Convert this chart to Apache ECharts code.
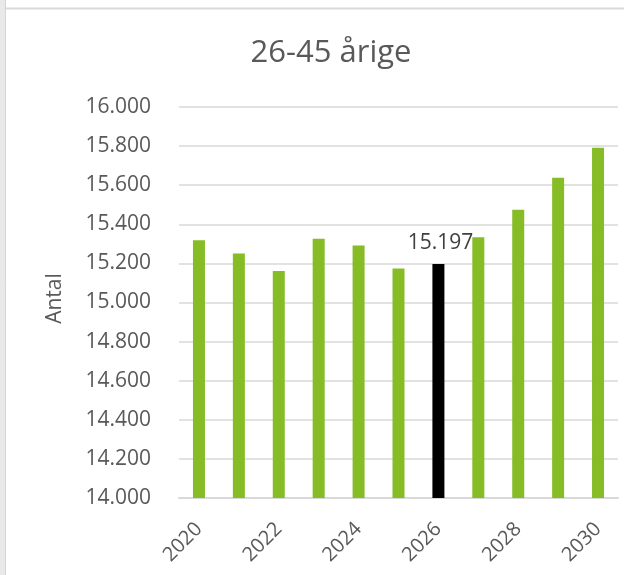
<!DOCTYPE html>
<html>
<head>
<meta charset="utf-8">
<script src="https://cdn.jsdelivr.net/npm/echarts@6/dist/echarts.min.js"></script>
<style>
html,body{margin:0;padding:0;background:#fff;}
#chart{width:624px;height:575px;}
</style>
</head>
<body>
<div id="chart"></div>
<script>
const categories = ['2020','2021','2022','2023','2024','2025','2026','2027','2028','2029','2030'];
const values = [15318, 15251, 15161, 15326, 15292, 15174, 15197, 15334, 15475, 15638, 15792];
const highlightYear = '2026';
const titleText = '26-45 årige';
const yAxisName = 'Antal';

const fontFamily = '"Open Sans", "Noto Sans", sans-serif';
const chart = echarts.init(document.getElementById('chart'), null, {renderer: 'canvas'});

const seriesData = values.map((v, i) => {
  if (categories[i] === highlightYear) {
    return {
      value: v,
      itemStyle: {color: '#000000'},
      label: {
        show: true, position: 'top', distance: 10, offset: [2, 0],
        formatter: p => (p.value / 1000).toFixed(3),
        color: '#404040', fontSize: 21, fontFamily: fontFamily
      }
    };
  }
  return v;
});

chart.setOption({
  animation: false,
  backgroundColor: '#ffffff',
  title: {
    text: titleText,
    left: 326, top: 33, textAlign: 'center',
    textStyle: {color: '#595959', fontSize: 31, fontWeight: 'normal', fontFamily: fontFamily}
  },
  grid: {left: 179, right: 6, top: 107, bottom: 77, containLabel: false},
  xAxis: {
    type: 'category',
    data: categories,
    axisLine: {lineStyle: {color: '#d9d9d9', width: 2}},
    axisTick: {show: false},
    axisLabel: {
      interval: 1, rotate: 45, margin: 28,
      color: '#595959', fontSize: 20, fontFamily: fontFamily
    }
  },
  yAxis: {
    type: 'value',
    min: 14000, max: 16000, interval: 200,
    name: yAxisName,
    nameLocation: 'middle',
    nameGap: 113,
    nameTextStyle: {color: '#595959', fontSize: 21, fontFamily: fontFamily, padding: [0, 0, 0, 8]},
    axisLine: {show: false},
    axisTick: {show: false},
    splitLine: {lineStyle: {color: '#d9d9d9', width: 1.5}},
    axisLabel: {
      margin: 28,
      color: '#595959', fontSize: 21, fontFamily: fontFamily,
      formatter: v => (v / 1000).toFixed(3)
    }
  },
  series: [{
    type: 'bar',
    data: seriesData,
    barWidth: 12,
    itemStyle: {color: '#86bc25'}
  }],
  graphic: [
    {type: 'rect', shape: {x: 0, y: 0, width: 5, height: 575}, style: {fill: '#e9e9e9'}, silent: true},
    {type: 'line', shape: {x1: 5.5, y1: 0, x2: 5.5, y2: 575}, style: {stroke: '#d4d4d4', lineWidth: 1}, silent: true},
    {type: 'line', shape: {x1: 6, y1: 8.5, x2: 624, y2: 8.5}, style: {stroke: '#dadada', lineWidth: 2}, silent: true}
  ]
});
</script>
</body>
</html>
